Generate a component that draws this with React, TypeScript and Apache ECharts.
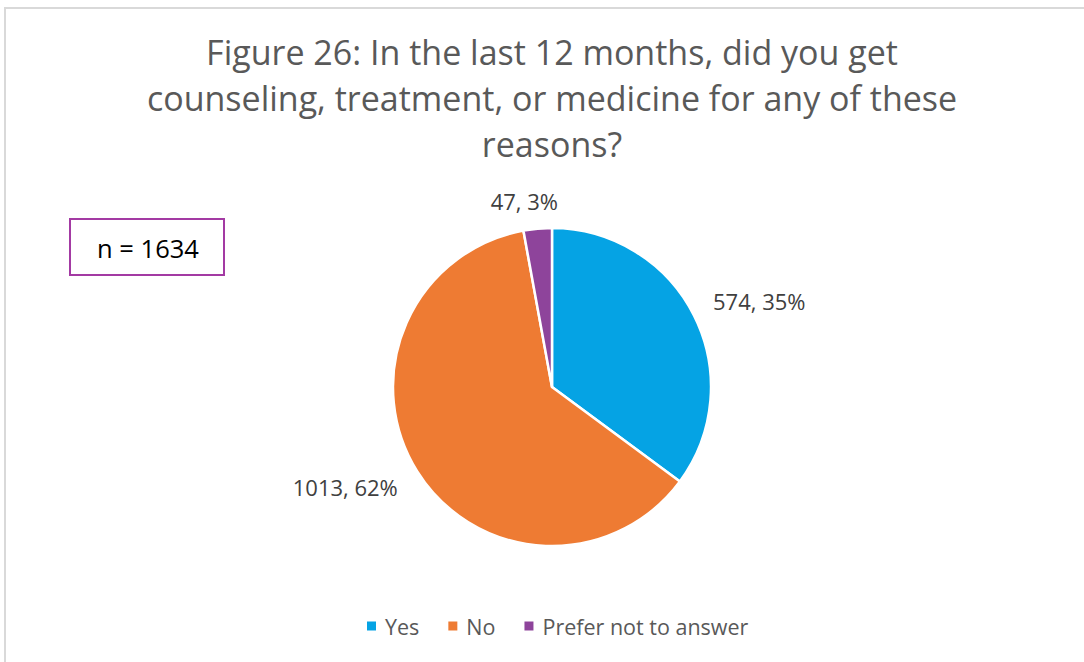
import React, { useEffect, useRef } from "react";
import * as echarts from "echarts";

const categories = ["Yes", "No", "Prefer not to answer"];
const counts = [574, 1013, 47];
const percents = [35, 62, 3];
const colors = ["#05A3E4", "#EE7B33", "#8E449B"];
const titleLines = [
  "Figure 26: In the last 12 months, did you get",
  "counseling, treatment, or medicine for any of these",
  "reasons?",
];
const nLabel = "n = 1634";

export default function App() {
  const ref = useRef<HTMLDivElement>(null);
  useEffect(() => {
    if (!ref.current) return;
    const chart = echarts.init(ref.current, null, { renderer: "svg" });
    const data = categories.map((c, i) => ({
      name: c,
      value: counts[i],
      pct: percents[i],
      itemStyle: { color: colors[i] },
    }));
    chart.setOption({
      animation: false,
      backgroundColor: "#ffffff",
      graphic: [
        {
          type: "rect",
          shape: { x: 5, y: 8, width: 1200, height: 800 },
          style: { fill: "none", stroke: "#d9d9d9", lineWidth: 2 },
          silent: true,
        },
        {
          type: "text",
          x: 552,
          y: 98,
          style: {
            text: titleLines.join("\n"),
            fontFamily: "Open Sans",
            fontSize: 34,
            lineHeight: 46,
            fill: "#595959",
            align: "center",
            verticalAlign: "middle",
          },
        },
        {
          type: "rect",
          shape: { x: 70, y: 219, width: 154, height: 56 },
          style: { fill: "#ffffff", stroke: "#A33AA3", lineWidth: 2 },
        },
        {
          type: "text",
          x: 148,
          y: 248,
          style: {
            text: nLabel,
            fontFamily: "Open Sans",
            fontSize: 25.5,
            fill: "#000000",
            align: "center",
            verticalAlign: "middle",
          },
        },
      ],
      legend: {
        data: categories,
        left: 362,
        top: 610,
        icon: "rect",
        itemWidth: 9,
        itemHeight: 9,
        itemGap: 29,
        itemStyle: { borderWidth: 0 },
        textStyle: {
          fontFamily: "Open Sans",
          fontSize: 21.5,
          color: "#595959",
          padding: [0, 0, 0, 4],
        },
      },
      series: [
        {
          type: "pie",
          center: [552, 387],
          radius: [0, 159],
          startAngle: 90,
          clockwise: true,
          data,
          itemStyle: { borderColor: "#ffffff", borderWidth: 2.5 },
          label: {
            show: true,
            position: "outside",
            formatter: (p: any) => `${p.value}, ${p.data.pct}%`,
            fontFamily: "Open Sans",
            fontSize: 22,
            color: "#404040",
          },
          labelLine: { show: false, length: 18, length2: 2 },
          labelLayout: (p: any) =>
            p.dataIndex === 2
              ? { dx: 29, dy: -10 }
              : p.dataIndex === 0
              ? { dx: -4, dy: -6 }
              : { dx: 3, dy: 6 },
          emphasis: { disabled: true },
        },
      ],
    });
    return () => chart.dispose();
  }, []);
  return (
    <div
      ref={ref}
      style={{ position: "absolute", left: 0, top: 0, width: 1084, height: 662 }}
    />
  );
}
